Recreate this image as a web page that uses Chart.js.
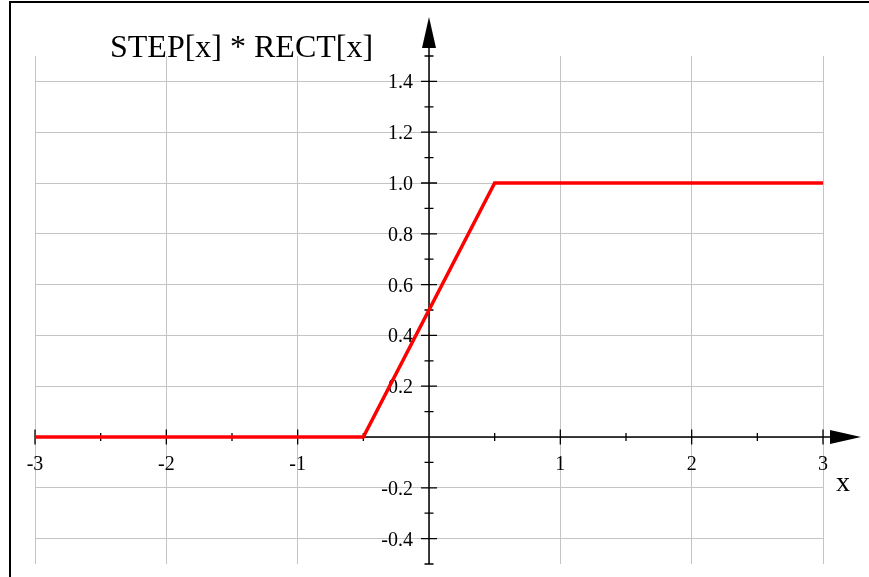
<!DOCTYPE html>
<html>
<head>
<meta charset="utf-8">
<script src="https://cdn.jsdelivr.net/npm/chart.js@4/dist/chart.umd.min.js"></script>
<style>
  html, body { margin: 0; padding: 0; background: #ffffff; }
  canvas { display: block; }
</style>
</head>
<body>
<canvas id="plot" width="869" height="577"></canvas>
<script>
// STEP[x] * RECT[x]: a ramp from 0 to 1 between x = -0.5 and x = 0.5
const xPoints = [-3, -0.5, 0.5, 3];
const yPoints = [0, 0, 1, 1];

// Axis ranges
const xRange = [-3, 3];
const yRange = [-0.5, 1.5];

// Major (labelled) and minor tick positions
const xMajorTicks = [-3, -2, -1, 0, 1, 2, 3];
const xMinorTicks = [-2.5, -1.5, -0.5, 0.5, 1.5, 2.5];
const xTickLabels = ['-3', '-2', '-1', '', '1', '2', '3'];

const yMajorTicks = [-0.4, -0.2, 0, 0.2, 0.4, 0.6, 0.8, 1.0, 1.2, 1.4];
const yMinorTicks = [-0.5, -0.3, -0.1, 0.1, 0.3, 0.5, 0.7, 0.9, 1.1, 1.3, 1.5];
const yTickLabels = ['-0.4', '-0.2', '', '0.2', '0.4', '0.6', '0.8', '1.0', '1.2', '1.4'];

const titleText = 'STEP[x] * RECT[x]';
const xAxisName = 'x';

const serif = '"Liberation Serif", "DejaVu Serif", serif';

// Frame, origin axes with arrows, tick marks and tick labels
const axesPlugin = {
  id: 'originAxes',
  beforeDatasetsDraw(chart) {
    const ctx = chart.ctx;
    const xs = chart.scales.x;
    const ys = chart.scales.y;
    const area = chart.chartArea;
    const x0 = xs.getPixelForValue(0);
    const y0 = ys.getPixelForValue(0);

    ctx.save();
    ctx.strokeStyle = '#000000';
    ctx.fillStyle = '#000000';
    ctx.lineWidth = 1.5;

    // vertical axis
    const yArrowBase = area.top - 8;
    const yArrowTip = area.top - 39;
    ctx.beginPath();
    ctx.moveTo(x0, ys.getPixelForValue(yRange[0]));
    ctx.lineTo(x0, yArrowBase);
    ctx.stroke();
    ctx.beginPath();
    ctx.moveTo(x0 - 7, yArrowBase);
    ctx.lineTo(x0 + 7, yArrowBase);
    ctx.lineTo(x0, yArrowTip);
    ctx.closePath();
    ctx.fill();

    // horizontal axis
    const xArrowBase = area.right + 7;
    const xArrowTip = area.right + 38;
    ctx.beginPath();
    ctx.moveTo(xs.getPixelForValue(xRange[0]), y0);
    ctx.lineTo(xArrowBase, y0);
    ctx.stroke();
    ctx.beginPath();
    ctx.moveTo(xArrowBase, y0 - 7);
    ctx.lineTo(xArrowBase, y0 + 7);
    ctx.lineTo(xArrowTip, y0);
    ctx.closePath();
    ctx.fill();

    // tick marks
    ctx.lineWidth = 1.3;
    ctx.beginPath();
    yMajorTicks.forEach(v => {
      if (v === 0) return;
      const py = ys.getPixelForValue(v);
      ctx.moveTo(x0 - 8, py); ctx.lineTo(x0 + 8, py);
    });
    yMinorTicks.forEach(v => {
      const py = ys.getPixelForValue(v);
      ctx.moveTo(x0 - 4.5, py); ctx.lineTo(x0 + 4.5, py);
    });
    xMajorTicks.forEach(v => {
      if (v === 0) return;
      const px = xs.getPixelForValue(v);
      ctx.moveTo(px, y0 - 7.5); ctx.lineTo(px, y0 + 7.5);
    });
    xMinorTicks.forEach(v => {
      const px = xs.getPixelForValue(v);
      ctx.moveTo(px, y0 - 4); ctx.lineTo(px, y0 + 4);
    });
    ctx.stroke();

    // tick labels
    ctx.font = '20px ' + serif;
    ctx.textBaseline = 'alphabetic';
    ctx.textAlign = 'right';
    yMajorTicks.forEach((v, i) => {
      if (!yTickLabels[i]) return;
      ctx.fillText(yTickLabels[i], x0 - 16, ys.getPixelForValue(v) + 7);
    });
    ctx.textAlign = 'center';
    xMajorTicks.forEach((v, i) => {
      if (!xTickLabels[i]) return;
      ctx.fillText(xTickLabels[i], xs.getPixelForValue(v), y0 + 33);
    });

    // axis name and title
    ctx.textAlign = 'left';
    ctx.font = '28px ' + serif;
    ctx.fillText(xAxisName, area.right + 13, y0 + 54);
    ctx.font = '32px ' + serif;
    ctx.fillText(titleText, 110, 57);
    ctx.restore();
  },
  afterDraw(chart) {
    // enclosing frame (top and left edges)
    const ctx = chart.ctx;
    ctx.save();
    ctx.strokeStyle = '#000000';
    ctx.lineWidth = 2;
    ctx.beginPath();
    ctx.moveTo(10, chart.height);
    ctx.lineTo(10, 2);
    ctx.lineTo(chart.width, 2);
    ctx.stroke();
    ctx.restore();
  }
};

const gridStyle = {
  color: '#c4c4c4',
  lineWidth: 1,
  drawTicks: false
};

new Chart(document.getElementById('plot'), {
  type: 'line',
  data: {
    datasets: [{
      data: xPoints.map((x, i) => ({ x: x, y: yPoints[i] })),
      borderColor: '#ff0000',
      borderWidth: 3.5,
      pointRadius: 0,
      tension: 0,
      fill: false
    }]
  },
  options: {
    responsive: false,
    animation: false,
    devicePixelRatio: 1,
    layout: { padding: { left: 35, right: 46, top: 56, bottom: 13 } },
    plugins: { legend: { display: false }, tooltip: { enabled: false }, title: { display: false } },
    scales: {
      x: {
        type: 'linear',
        min: xRange[0],
        max: xRange[1],
        grid: gridStyle,
        border: { display: false },
        ticks: { display: false },
        afterBuildTicks: s => { s.ticks = xMajorTicks.map(v => ({ value: v })); },
        afterFit: s => { s.height = 0; }
      },
      y: {
        type: 'linear',
        min: yRange[0],
        max: yRange[1],
        grid: gridStyle,
        border: { display: false },
        ticks: { display: false },
        afterBuildTicks: s => { s.ticks = yMajorTicks.map(v => ({ value: v })); },
        afterFit: s => { s.width = 0; }
      }
    }
  },
  plugins: [axesPlugin]
});
</script>
</body>
</html>
